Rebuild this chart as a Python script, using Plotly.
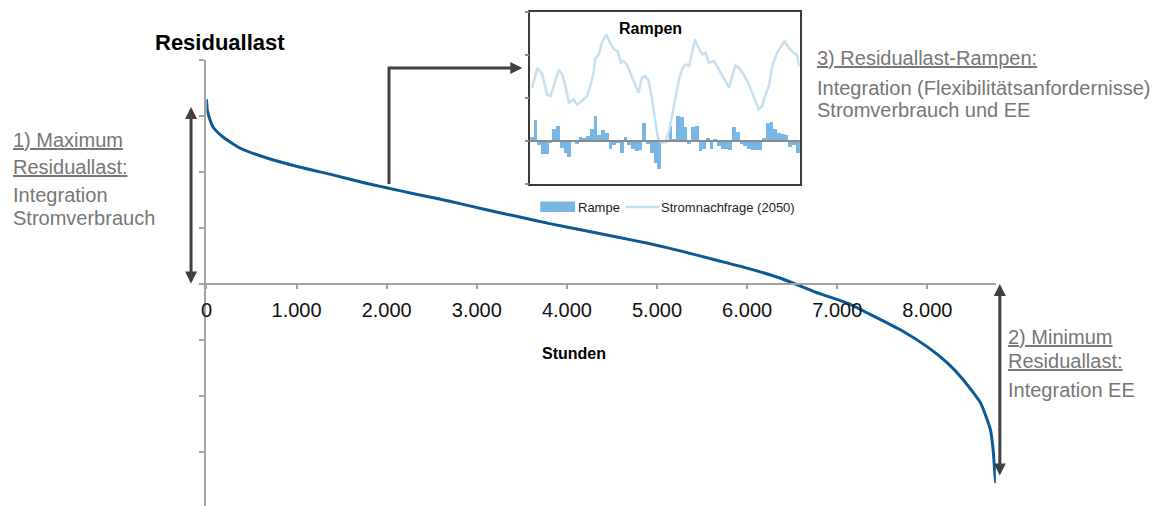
import plotly.graph_objects as go

# ---------------- data ----------------
hours = [0, 10, 40, 75, 180, 370, 670, 1030, 1400, 1770, 1970, 2340, 2700, 3070,
         3440, 3810, 4180, 4540, 4910, 5280, 5650, 6010, 6380, 6750, 7120,
         7340, 7705, 8000, 8225, 8400, 8590, 8700, 8730, 8750, 8760]
residual = [3.30, 3.10, 2.93, 2.80, 2.63, 2.43, 2.25, 2.09, 1.95, 1.80, 1.73, 1.60,
            1.48, 1.34, 1.21, 1.08, 0.96, 0.845, 0.725, 0.585, 0.43, 0.28,
            0.10, -0.14, -0.345, -0.52, -0.82, -1.12, -1.41, -1.71, -2.12, -2.60,
            -2.96, -3.40, -3.55]

x_ticks = [0, 1000, 2000, 3000, 4000, 5000, 6000, 7000, 8000]
x_tick_labels = ["0", "1.000", "2.000", "3.000", "4.000", "5.000", "6.000", "7.000", "8.000"]

ramp_hour = list(range(72))
ramp = [0.09, 0.48, -0.10, -0.30, -0.30, -0.03, 0.27, 0.36, -0.17, -0.27,
        -0.38, 0.00, -0.08, 0.09, 0.07, 0.11, 0.28, 0.59, 0.15, 0.25,
        0.19, -0.19, -0.10, -0.05, -0.29, 0.09, -0.10, -0.18, -0.24, -0.22,
        0.41, -0.06, -0.27, -0.50, -0.66, 0.00, 0.00, 0.34, 0.05, 0.57,
        0.56, 0.33, -0.06, 0.33, 0.34, -0.23, -0.19, 0.07, -0.19, 0.05,
        -0.12, -0.18, -0.18, -0.20, 0.33, 0.21, -0.06, -0.12, -0.18, -0.20,
        -0.20, -0.20, 0.07, 0.41, 0.44, 0.27, 0.19, 0.16, 0.13, -0.14,
        -0.10, -0.29]

demand_hour = [0.0, 1.4, 2.7, 4.0, 4.9, 5.8, 7.1, 8.0, 8.9, 9.8, 11.1, 12.0, 13.3,
               14.6, 15.5, 16.4, 16.9, 17.8, 18.6, 19.8, 20.8, 21.9, 22.8, 23.7,
               24.4, 25.3, 26.6, 28.4, 29.3, 30.1, 31.0, 31.9, 32.8, 33.7, 34.6,
               35.7, 36.6, 37.5, 38.4, 39.3, 40.2, 41.0, 41.9, 42.8, 43.5, 44.4,
               45.5, 46.3, 47.2, 48.6, 49.9, 51.2, 52.6, 53.4, 54.3, 55.2, 56.5,
               57.9, 59.2, 60.5, 61.4, 62.3, 63.2, 64.1, 65.4, 66.7, 67.4, 68.5,
               69.8, 70.7, 71.3]
demand = [1.24, 1.70, 1.55, 1.08, 1.04, 1.31, 1.66, 1.55, 1.27, 0.89, 0.97, 0.85, 0.93,
          1.04, 1.27, 1.59, 1.93, 2.01, 2.28, 2.48, 2.28, 2.13, 2.09, 1.82,
          1.86, 1.78, 1.51, 1.12, 1.47, 1.51, 1.43, 1.04, 0.50, 0.03, -0.04,
          -0.03, 0.25, 0.66, 1.04, 1.47, 1.70, 1.78, 1.74, 2.05, 2.36, 2.17,
          2.01, 2.05, 1.82, 1.86, 1.66, 1.43, 1.24, 1.51, 1.76, 1.70, 1.55,
          1.31, 1.04, 0.73, 0.81, 1.08, 1.27, 1.74, 2.05, 2.24, 2.32, 2.17,
          2.05, 2.01, 1.74]

# ---------------- styling ----------------
W, H = 1160, 506
FONT = "Liberation Sans, Arial, sans-serif"
GRAY_TXT = "#767676"
AXIS_GRAY = "#a3a3a3"
ARROW = "#404040"
CURVE = "#0b5a96"
BAR = "#78b6e3"
LINE2 = "#c8dff0"


def px(x):
    return x / W


def py(y):
    return 1 - y / H


fig = go.Figure()
fig.add_trace(go.Scatter(x=hours, y=residual, mode="lines",
                         line=dict(color=CURVE, width=3, shape="spline", smoothing=0.5),
                         xaxis="x", yaxis="y", hoverinfo="skip"))
fig.add_trace(go.Bar(x=ramp_hour, y=ramp, marker=dict(color=BAR, line=dict(width=0)),
                     xaxis="x2", yaxis="y2", hoverinfo="skip"))
fig.add_trace(go.Scatter(x=demand_hour, y=demand, mode="lines",
                         line=dict(color=LINE2, width=2.5),
                         xaxis="x2", yaxis="y2", hoverinfo="skip"))

fig.update_layout(
    width=W, height=H, margin=dict(l=0, r=0, t=0, b=0),
    paper_bgcolor="white", plot_bgcolor="rgba(0,0,0,0)",
    separators=",.", showlegend=False, bargap=0,
    font=dict(family=FONT, color="#000"),
    xaxis=dict(domain=[px(201.5), px(995)], range=[0, 8760], anchor="free",
               position=py(284), showline=True, linecolor=AXIS_GRAY, linewidth=2,
               ticks="outside", ticklen=4, tickwidth=2, tickcolor=AXIS_GRAY,
               tickvals=x_ticks, ticktext=x_tick_labels, ticklabelstandoff=4,
               tickfont=dict(size=20, color="#111", family=FONT),
               showgrid=False, zeroline=False),
    yaxis=dict(domain=[0, py(60)], range=[-3.96, 4], anchor="x", showline=True,
               linecolor=AXIS_GRAY, linewidth=2, ticks="outside", ticklen=5,
               tickwidth=2, tickcolor=AXIS_GRAY, tick0=0, dtick=1,
               showticklabels=False, showgrid=False, zeroline=False),
    xaxis2=dict(domain=[px(527), px(798)], range=[-0.5, 71.5], anchor="y2",
                showline=True, mirror=True, linecolor="#3a3a3a", linewidth=1.5,
                showticklabels=False, ticks="", showgrid=False, zeroline=False),
    yaxis2=dict(domain=[py(184), py(12)], range=[-1, 3], anchor="x2",
                showline=True, mirror=True, linecolor="#3a3a3a", linewidth=1.5,
                ticks="outside", ticklen=4, tickwidth=1.5, tickcolor="#909090",
                tick0=0, dtick=1, showticklabels=False, showgrid=False, zeroline=False),
)

shapes = [
    # inset zero line
    dict(type="line", xref="x2 domain", x0=0, x1=1, yref="y2", y0=0, y1=0,
         line=dict(color="#8a8a8a", width=2), layer="above"),
    # elbow connector vertical part
    dict(type="line", xref="paper", x0=px(385), x1=px(385), yref="paper",
         y0=py(184), y1=py(66.5), line=dict(color=ARROW, width=3)),
    # inset legend swatches
    dict(type="rect", xref="paper", yref="paper", x0=px(537), x1=px(572),
         y0=py(212), y1=py(201.5), fillcolor=BAR, line=dict(width=0)),
    dict(type="line", xref="paper", yref="paper", x0=px(623), x1=px(657),
         y0=py(207), y1=py(207), line=dict(color=LINE2, width=2.5)),
]
fig.update_layout(shapes=shapes)

ann = []


def txt(text, x, y, size=20, color=GRAY_TXT, xanchor="left", bold=False):
    if bold:
        text = "<b>" + text + "</b>"
    ann.append(dict(text=text, x=px(x), y=py(y), xref="paper", yref="paper",
                    xanchor=xanchor, yanchor="middle", showarrow=False,
                    font=dict(size=size, color=color, family=FONT)))


def arrow(x, y, ax, ay, both=False):
    d = dict(text="", x=px(x), y=py(y), xref="paper", yref="paper", ax=ax, ay=ay,
             showarrow=True, arrowhead=2, arrowsize=0.8, arrowwidth=3,
             arrowcolor=ARROW)
    if both:
        d.update(arrowside="end+start", startarrowhead=2, startarrowsize=0.8)
    ann.append(d)


txt("Residuallast", 148, 43, size=22, color="#000", bold=True)
txt("Stunden", 571, 353, size=16, color="#000", xanchor="center", bold=True)
txt("Rampen", 648, 28, size=16, color="#000", xanchor="center", bold=True)
txt("Rampe", 573, 207, size=13, color="#222")
txt("Stromnachfrage (2050)", 656, 207, size=13, color="#222")

txt("<u>1) Maximum</u>", 5, 140)
txt("<u>Residuallast:</u>", 5, 167)
txt("Integration", 5, 195)
txt("Stromverbrauch", 5, 218)

txt("<u>2) Minimum</u>", 1005, 337)
txt("<u>Residuallast:</u>", 1005, 361)
txt("Integration EE", 1005, 390)

txt("<u>3) Residuallast-Rampen:</u>", 813, 58)
txt("Integration (Flexibilitätsanfordernisse)", 813, 88)
txt("Stromverbrauch und EE", 813, 110)

arrow(186, 107, 0, 178, both=True)
arrow(999, 284, 0, 193, both=True)
arrow(519, 68, -134, 0)

fig.update_layout(annotations=ann)

fig.write_html("out.html")
